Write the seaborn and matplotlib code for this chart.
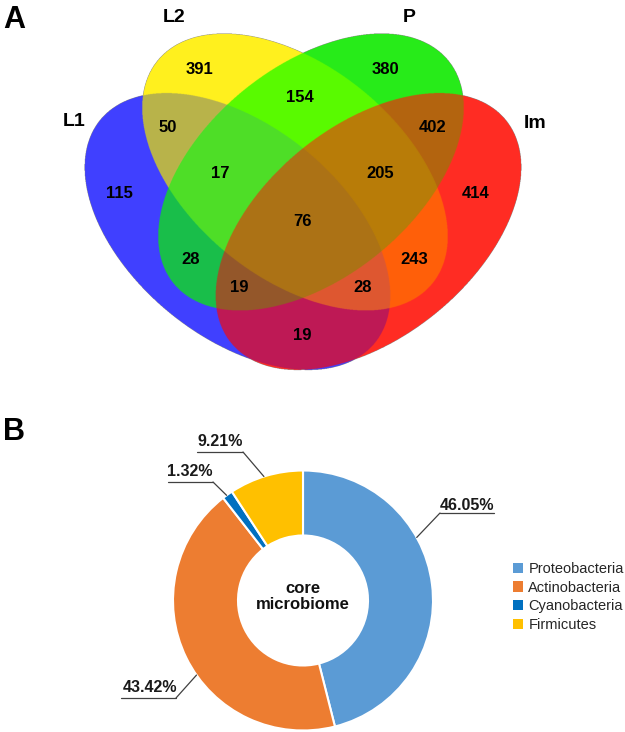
import numpy as np
import matplotlib
matplotlib.use('Agg')
import matplotlib.pyplot as plt
import seaborn as sns
from matplotlib import font_manager
from matplotlib.patches import Patch

# ---------------------------------------------------------------------------
# Data
# ---------------------------------------------------------------------------
set_names = ['L1', 'L2', 'P', 'Im']

region_keys = ['L1', 'L2', 'P', 'Im',
               'L1&L2', 'L2&P', 'P&Im', 'L1&Im', 'L1&P', 'L2&Im',
               'L1&L2&P', 'L2&P&Im', 'L1&P&Im', 'L1&L2&Im',
               'L1&L2&P&Im']
region_counts = [115, 391, 380, 414,
                 50, 154, 402, 19, 28, 243,
                 17, 205, 19, 28,
                 76]

phyla = ['Proteobacteria', 'Actinobacteria', 'Cyanobacteria', 'Firmicutes']
shares = [46.05, 43.42, 1.32, 9.21]

# ---------------------------------------------------------------------------
# Layout / style (pixel space, y downwards)
# ---------------------------------------------------------------------------
W_PX, H_PX = 625, 732

# ellipse: centre x, centre y, semi-major, semi-minor, angle
ellipses = {
    'L1': (237.5, 231.5, 177, 106, 39),
    'L2': (295.0, 172.0, 177, 106, 39),
    'P':  (311.0, 172.0, 177, 106, -39),
    'Im': (368.5, 231.5, 177, 106, -39),
}

region_colours = {
    'L1': (64, 64, 255), 'L2': (255, 240, 30), 'P': (40, 235, 25),
    'Im': (255, 45, 35),
    'L1&L2': (185, 180, 75), 'L2&P': (90, 250, 0), 'P&Im': (180, 100, 15),
    'L1&Im': (190, 25, 85), 'L1&P': (25, 190, 75), 'L2&Im': (255, 95, 10),
    'L1&L2&P': (78, 222, 40), 'L2&P&Im': (184, 124, 8),
    'L1&P&Im': (148, 88, 42), 'L1&L2&Im': (222, 88, 48),
    'L1&L2&P&Im': (172, 114, 22),
}

region_pos = {
    'L1': (119, 193), 'L2': (199, 70), 'P': (385, 70), 'Im': (476, 193),
    'L1&L2': (168, 127), 'L2&P': (300, 98), 'P&Im': (433, 127),
    'L1&Im': (302, 336), 'L1&P': (191, 260), 'L2&Im': (414, 260),
    'L1&L2&P': (220, 174), 'L2&P&Im': (380, 174),
    'L1&P&Im': (239, 288), 'L1&L2&Im': (363, 288),
    'L1&L2&P&Im': (302, 222),
}
set_label_pos = {'L1': (74, 122), 'L2': (174, 18), 'P': (409, 18), 'Im': (535, 124)}

phylum_colours = ['#5B9BD5', '#ED7D31', '#0070C0', '#FFC000']
donut_centre = (303, 600.5)
donut_r = 130
# text centre, underline (x0, x1, y), leader start side, anchor angle on ring
pie_labels = [
    ((467, 505), (440, 494, 513), 'left', 29),
    ((150, 688), (121, 176, 698), 'right', 215),
    ((190, 471), (168, 213, 482), 'right', 126),
    ((220, 442), (197, 243, 452), 'right', 107.5),
]

sns.set_theme(style='white')
names = {f.name for f in font_manager.fontManager.ttflist}
narrow = 'Liberation Sans Narrow' in names
venn_font = 'Liberation Sans Narrow' if narrow else 'Liberation Sans'
num_size = 13 if narrow else 12
set_size = 15 if narrow else 14
plt.rcParams['font.family'] = ['Liberation Sans', 'DejaVu Sans']

fig = plt.figure(figsize=(W_PX / 100, H_PX / 100), dpi=100)
fig.patch.set_facecolor('white')

# ---------------------------------------------------------------------------
# Panel A: four-set Venn (rasterised region colouring)
# ---------------------------------------------------------------------------
ax = fig.add_axes([0, 0, 1, 1])
ax.set_xlim(0, W_PX)
ax.set_ylim(H_PX, 0)
ax.axis('off')

x0, x1, y0, y1 = 60, 550, 20, 385
xs = np.linspace(x0, x1, (x1 - x0) * 3)
ys = np.linspace(y0, y1, (y1 - y0) * 3)
X, Y = np.meshgrid(xs, ys)


def inside(cx, cy, a, b, ang):
    t = np.deg2rad(ang)
    dx, dy = X - cx, Y - cy
    u = dx * np.cos(t) + dy * np.sin(t)
    v = -dx * np.sin(t) + dy * np.cos(t)
    return (u / a) ** 2 + (v / b) ** 2 <= 1


masks = {n: inside(*ellipses[n]) for n in set_names}
img = np.zeros(X.shape + (4,))
for key in region_keys:
    members = key.split('&')
    m = np.ones(X.shape, bool)
    for n in set_names:
        m &= masks[n] if n in members else ~masks[n]
    img[m, :3] = np.array(region_colours[key]) / 255
    img[m, 3] = 1
ax.imshow(img, extent=(x0, x1, y0, y1), origin='lower',
          interpolation='antialiased', zorder=1)
ax.set_aspect('auto')
ax.set_xlim(0, W_PX)
ax.set_ylim(H_PX, 0)

for key, n in zip(region_keys, region_counts):
    px, py = region_pos[key]
    ax.text(px, py, str(n), ha='center', va='center', fontsize=num_size,
            fontweight='bold', family=venn_font, color='black', zorder=3)
for name in set_names:
    px, py = set_label_pos[name]
    ax.text(px, py, name, ha='center', va='center', fontsize=set_size,
            fontweight='bold', family=venn_font, color='black', zorder=3)

ax.text(14, 20, 'A', ha='center', va='center', fontsize=22,
        fontweight='bold', color='black')
ax.text(14, 432, 'B', ha='center', va='center', fontsize=22,
        fontweight='bold', color='black')

# ---------------------------------------------------------------------------
# Panel B: core microbiome donut
# ---------------------------------------------------------------------------
cx, cy = donut_centre
axp = fig.add_axes([(cx - donut_r) / W_PX, (H_PX - cy - donut_r) / H_PX,
                    2 * donut_r / W_PX, 2 * donut_r / H_PX])
wedges, _ = axp.pie(shares, colors=phylum_colours, startangle=90,
                    counterclock=False, radius=1,
                    wedgeprops=dict(width=0.5, edgecolor='white',
                                    linewidth=1.5))
for w in wedges:
    w.set_clip_on(False)
axp.set_xlim(-1, 1)
axp.set_ylim(-1, 1)
axp.axis('off')


def to_pie(x, y):
    return (x - cx) / donut_r, (cy - y) / donut_r


for v, (tpos, uline, side, ang) in zip(shares, pie_labels):
    tx, ty = to_pie(*tpos)
    axp.text(tx, ty, f'{v:.2f}%', ha='center', va='center', fontsize=11.5,
             fontweight='bold', color='#1a1a1a', clip_on=False)
    ux0, uy = to_pie(uline[0], uline[2])
    ux1, _ = to_pie(uline[1], uline[2])
    axp.plot([ux0, ux1], [uy, uy], color='#404040', lw=0.9, clip_on=False)
    sx = ux0 if side == 'left' else ux1
    ax_, ay_ = np.cos(np.deg2rad(ang)), np.sin(np.deg2rad(ang))
    axp.plot([sx, ax_], [uy, ay_], color='#404040', lw=0.9, clip_on=False)

axp.text(0, 0.03, 'core\nmicrobiome', ha='center', va='center', fontsize=12,
         fontweight='bold', color='#111111', linespacing=1.05)

handles = [Patch(facecolor=c, edgecolor='none') for c in phylum_colours]
fig.legend(handles, phyla, loc='center left',
           bbox_to_anchor=(513 / W_PX, 1 - 597 / H_PX),
           bbox_transform=fig.transFigure, frameon=False, fontsize=10.5,
           handlelength=0.7, handleheight=0.7, handletextpad=0.35,
           labelspacing=0.32, borderpad=0, borderaxespad=0)

fig.savefig('out.png', dpi=100)
